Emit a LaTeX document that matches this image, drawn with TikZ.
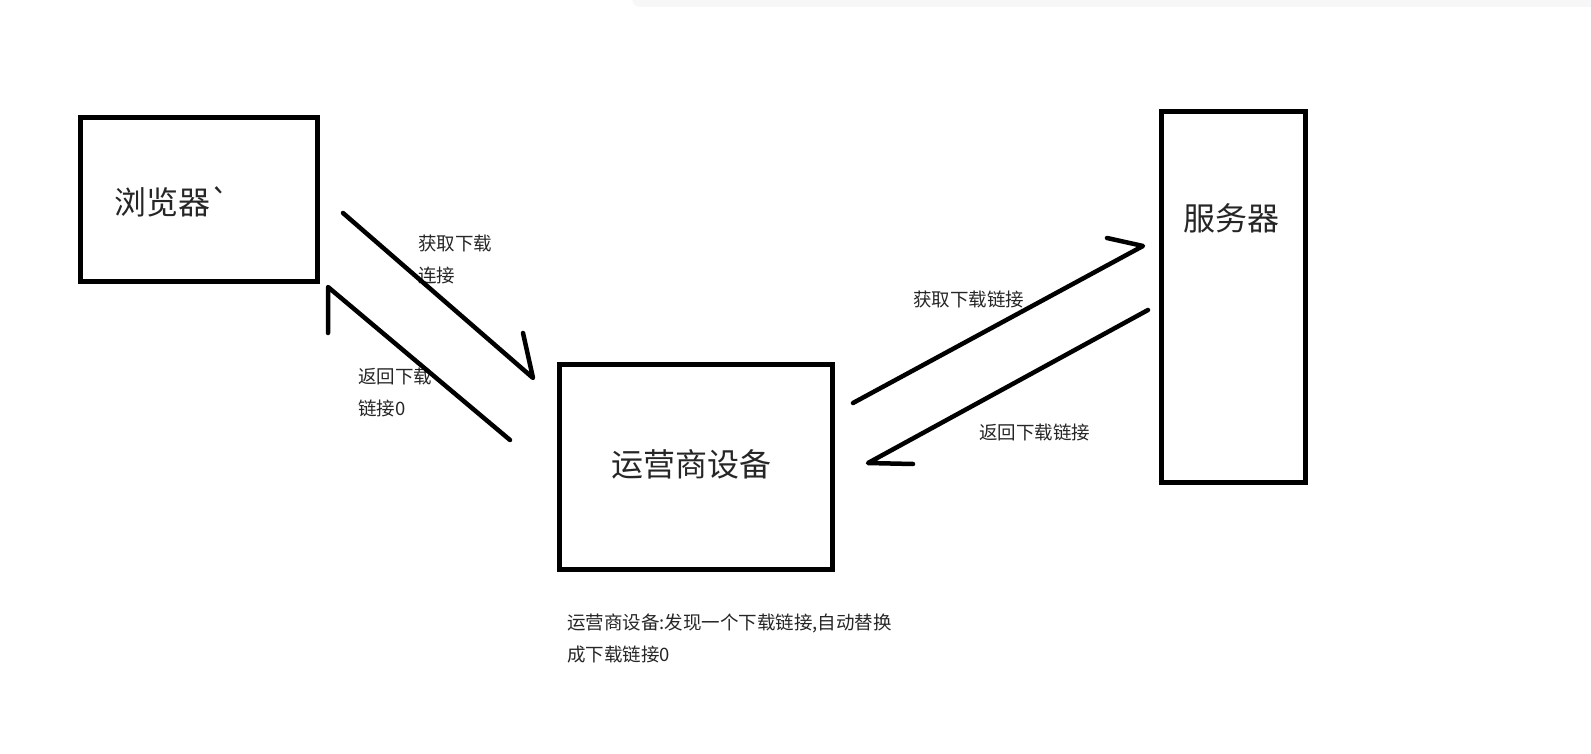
\documentclass[tikz,border=0pt]{standalone}
\usepackage{fontspec}
\setmainfont{Noto Sans CJK SC}
\newfontfamily\plaincjk{Noto Sans CJK SC}[Ligatures=ResetAll]
\usetikzlibrary{positioning, calc}
\definecolor{inkgray}{HTML}{262626}
\definecolor{bargray}{HTML}{F7F7F7}

\begin{document}
\begin{tikzpicture}[x=1pt, y=-1pt,
  box/.style={draw, line width=5pt, inner sep=0pt, outer sep=0pt},
  bigtext/.style={text=inkgray, inner sep=0pt, font=\fontsize{32}{38}\selectfont},
  smalltext/.style={text=inkgray, inner sep=0pt, align=left, anchor=west, font=\fontsize{18.5}{32}\selectfont},
  stroke/.style={line width=4.5pt, line cap=round, line join=round}]

\useasboundingbox (0,0) rectangle (1591,754);

% Grey strip at the top
\begin{scope}
\clip (0,0) rectangle (1591,754);
\fill[bargray, rounded corners=8pt] (632,-10) rectangle (1600,7);
\end{scope}

% Boxes
\node[box, minimum width=236.5pt, minimum height=164pt] (browser) at (198.75,200) {};
\node[box, minimum width=273pt, minimum height=205pt] (carrier) at (696,467) {};
\node[box, minimum width=144pt, minimum height=370.5pt] (server) at (1233.5,297.25) {};

% Box labels
\node[bigtext, anchor=west] (browserlabel) at (114,202) {浏览器{\plaincjk `}};
\node[bigtext] (carrierlabel) at (691,464) {运营商设备};
\node[bigtext] (serverlabel) at (1231,218) {服务器};

% Arrow labels
\node[smalltext] (reqlabel) at (418,259) {获取下载\\连接};
\node[smalltext] (replabel) at (358,392.5) {返回下载\\链接0};
\node[smalltext] (fwdlabel) at (913,299) {获取下载链接};
\node[smalltext] (backlabel) at (979,432) {返回下载链接};

% Note under the carrier box
\node[smalltext] (note) at (567,638) {运营商设备:发现一个下载链接,自动替换\\成下载链接0};

% Arrow ends
\coordinate (req-s) at (343,213);
\coordinate (req-e) at (533,378);
\coordinate (req-tip) at (523,333);
\coordinate (rep-s) at (510,440);
\coordinate (rep-e) at (328,287);
\coordinate (rep-tip) at (328,333);
\coordinate (fwd-s) at (853,403);
\coordinate (fwd-e) at (1143,246);
\coordinate (fwd-tip) at (1107,238);
\coordinate (back-s) at (1148,310);
\coordinate (back-e) at (868,463);
\coordinate (back-tip) at (913,464);

% Hand drawn arrows
\draw[stroke] (req-s) -- (req-e) -- (req-tip);
\draw[stroke] (rep-s) -- (rep-e) -- (rep-tip);
\draw[stroke] (fwd-s) -- (fwd-e) -- (fwd-tip);
\draw[stroke] (back-s) -- (back-e) -- (back-tip);

\end{tikzpicture}
\end{document}
